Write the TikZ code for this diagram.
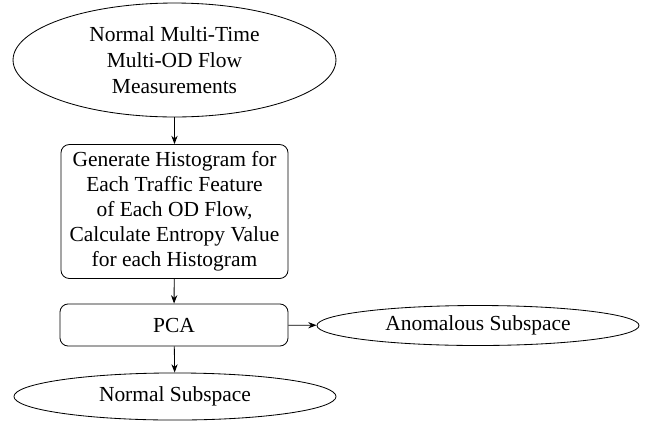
\documentclass[tikz,border=0pt]{standalone}
\usepackage{fontspec}
\setmainfont{Liberation Serif}
\usetikzlibrary{shapes.geometric,arrows.meta}
\begin{document}
\begin{tikzpicture}[x=0.48pt,y=-0.48pt,
  txt/.style={font=\fontsize{10.3}{12}\selectfont,align=center,inner sep=0pt},
  ell/.style={txt,draw,ellipse},
  rbox/.style={txt,draw,rounded corners=4pt},
  arr/.style={-{Stealth[length=4pt,width=3pt]}}]
\useasboundingbox (0,0) rectangle (647,441);
\node[ell,minimum width=155pt,minimum height=54.7pt,font=\fontsize{10.3}{12.5}\selectfont] (meas) at (174.5,60) {Normal Multi-Time\\Multi-OD Flow\\Measurements};
\node[rbox,minimum width=109pt,minimum height=64.3pt] (hist) at (174.5,211.5) {Generate Histogram for\\Each Traffic Feature\\of Each OD Flow,\\Calculate Entropy Value\\for each Histogram};
\node[rbox,minimum width=109.5pt,minimum height=20.2pt] (pca) at (174,325) {PCA};
\node[ell,minimum width=154.6pt,minimum height=19.2pt] (anom) at (478,325.5) {Anomalous Subspace};
\node[ell,minimum width=154.6pt,minimum height=22.6pt] (norm) at (175,396.5) {Normal Subspace};
\draw[arr] (meas) -- (hist);
\draw[arr] (hist) -- (pca);
\draw[arr] (pca) -- (anom);
\draw[arr] (pca) -- (norm);
\end{tikzpicture}
\end{document}
